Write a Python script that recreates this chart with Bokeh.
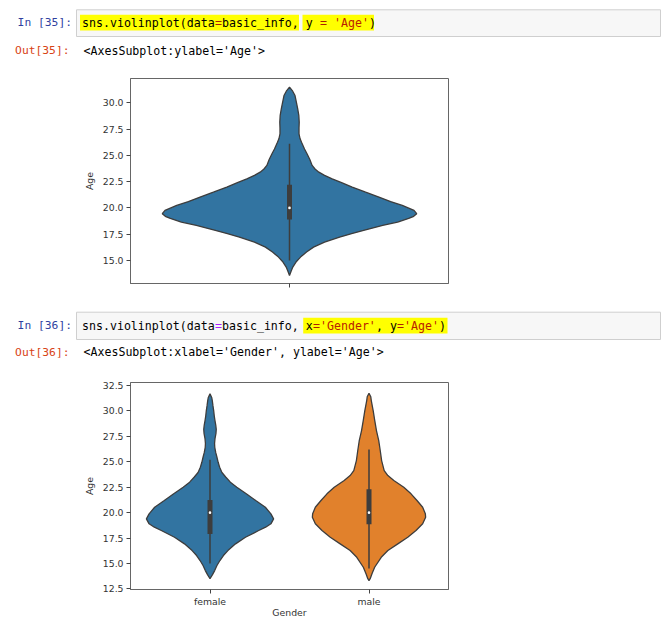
from bokeh.plotting import figure
from bokeh.layouts import column, row
from bokeh.models import Range1d, FixedTicker, PrintfTickFormatter
from bokeh.core.properties import value
from bokeh.embed import file_html
from bokeh.resources import INLINE

# ---------------- data ----------------
# single violin (all ages)
all_age = [31.49, 31.1, 30.69, 30.0, 29.43, 28.8, 28.16, 27.6, 27.05, 26.6, 26.25, 25.6, 25.15,
           24.6, 24.04, 23.7, 23.4, 23.1, 22.77, 22.4, 21.98, 21.5, 21.03, 20.6, 20.24, 19.76,
           19.45, 19.2, 19.0, 18.65, 18.33, 17.86, 17.55, 17.22, 16.75, 16.27, 15.8, 15.32,
           14.85, 14.37, 13.95, 13.58]
all_dens = [0, 3.2, 5.5, 7, 8.2, 9.3, 9.7, 9.5, 9.5, 10.5, 12, 15, 17.5,
            20.3, 22.6, 25.5, 29.3, 35, 42.6, 52, 62.6, 76, 89.3, 101, 112.6, 124.3,
            127, 124, 119, 108, 93, 74, 62, 50, 35, 24, 17, 11,
            6.5, 3.3, 1.5, 0]
all_box = dict(low=15.0, q1=18.9, med=20.0, q3=22.2, high=26.1)

genders = ["female", "male"]
female_age = [31.68, 31.3, 31.02, 30.5, 30.04, 29.5, 29.06, 28.6, 28.2, 27.8, 27.26, 26.8,
              26.43, 25.9, 25.45, 24.95, 24.46, 23.95, 23.48, 23.0, 22.5, 21.85, 21.19, 20.53,
              19.88, 19.39, 18.9, 18.57, 18.24, 17.58, 16.93, 16.27, 15.78, 15.29, 14.8, 14.3,
              13.9, 13.5]
female_dens = [0, 1.8, 2.3, 3, 3.7, 4.3, 5, 5.8, 6.3, 6, 5, 4.6,
               4.8, 5.8, 7, 8.2, 9.7, 12, 16, 20.5, 27, 36.5, 46, 55.7,
               61.3, 64, 61.3, 56, 49, 35.7, 25.7, 18, 13.5, 10, 7, 4.7,
               2.5, 0]
male_age = [31.74, 31.4, 31.02, 30.04, 29.06, 28.07, 27.09, 26.11, 25.12, 24.14, 23.65, 23.16,
            22.5, 21.85, 21.19, 20.53, 19.88, 19.55, 18.9, 18.24, 17.58, 16.93, 16.27, 15.61,
            14.63, 13.98, 13.5, 13.32]
male_dens = [0, 1.8, 2.3, 4.2, 5.8, 7.5, 9.8, 11.3, 12.7, 15.3, 19, 25,
             35, 42.3, 48.3, 54, 56.7, 57, 54, 47.3, 39, 29, 19, 12.3,
             5.7, 3, 1.2, 0]
gender_box = [dict(low=15.0, q1=17.9, med=20.0, q3=21.25, high=25.2),
              dict(low=14.5, q1=18.85, med=20.0, q3=22.3, high=26.2)]

plot1_yticks = [15.0, 17.5, 20.0, 22.5, 25.0, 27.5, 30.0]
plot2_yticks = [12.5, 15.0, 17.5, 20.0, 22.5, 25.0, 27.5, 30.0, 32.5]

code1 = [("sns.violinplot(data", "#000000"), ("=", "#aa2200"), ("basic_info, y ", "#000000"),
         ("=", "#aa2200"), (" ", "#000000"), ("'Age'", "#ba2100"), (")", "#000000")]
code2 = [("sns.violinplot(data", "#000000"), ("=", "#aa22ff"), ("basic_info, x", "#000000"),
         ("=", "#aa2200"), ("'Gender'", "#ba2100"), (", y", "#000000"), ("=", "#aa2200"),
         ("'Age'", "#ba2100"), (")", "#000000")]
out1 = "<AxesSubplot:ylabel='Age'>"
out2 = "<AxesSubplot:xlabel='Gender', ylabel='Age'>"

BLUE = "#3274a1"
ORANGE = "#e1812c"
GRAY = "#3d3d3d"
W = 669
MONO = "DejaVu Sans Mono"
CH = 7.0  # monospace advance
FL, FW = 130, 318  # plot frame left / width


def header(height, n, code, out, box_y, hl, text_y, out_y):
    p = figure(width=W, height=height, x_range=Range1d(0, W), y_range=Range1d(height, 0),
               output_backend="svg", toolbar_location=None, min_border=0,
               x_axis_location=None, y_axis_location=None)
    p.outline_line_color = None
    p.grid.visible = False
    # input box
    p.quad(left=[76], right=[660], top=[box_y[0]], bottom=[box_y[1]],
           fill_color="#f7f7f7", line_color="#cfcfcf", line_width=1)
    # highlights
    p.quad(left=[h[0] for h in hl], right=[h[1] for h in hl],
           top=[h[2] for h in hl], bottom=[h[3] for h in hl],
           fill_color="#ffff00", line_color=None)
    # prompts
    p.text(x=[71.5], y=[text_y], text=[f"In [{n}]:"], text_color="#303f9f",
           text_font=value(MONO), text_font_size=value("11.3px"),
           text_align="right", text_baseline="middle")
    p.text(x=[69], y=[out_y], text=[f"Out[{n}]:"], text_color="#d84315",
           text_font=value(MONO), text_font_size=value("11.3px"),
           text_align="right", text_baseline="middle")
    # code segments
    xs, txt, cols = [], [], []
    pos = 0
    for s, c in code:
        xs.append(81.5 + pos * CH)
        txt.append(s)
        cols.append(c)
        pos += len(s)
    p.text(x=xs, y=[text_y] * len(xs), text=txt, text_color=cols,
           text_font=value(MONO), text_font_size=value("11.6px"),
           text_align="left", text_baseline="middle")
    p.text(x=[83], y=[out_y], text=[out], text_color="#000000",
           text_font=value(MONO), text_font_size=value("11.6px"),
           text_align="left", text_baseline="middle")
    return p


def style_axes(p):
    p.grid.visible = False
    p.outline_line_color = "#666666"
    p.outline_line_width = 1
    for ax in (p.xaxis[0], p.yaxis[0]):
        ax.axis_line_color = "#666666"
        ax.major_tick_line_color = "#444444"
        ax.major_tick_line_width = 1
        ax.major_tick_out = 4
        ax.major_tick_in = 0
        ax.minor_tick_line_color = None
        ax.major_label_text_font = "DejaVu Sans"
        ax.major_label_text_font_size = "9.3px"
        ax.major_label_text_color = "#333333"
        ax.major_label_standoff = 3
        ax.axis_label_text_font = "DejaVu Sans"
        ax.axis_label_text_font_size = "9.3px"
        ax.axis_label_text_font_style = "normal"
        ax.axis_label_text_color = "#333333"


def draw_violin(p, pos, ages, dens, scale, color, box, box_w):
    half = [d * scale for d in dens]
    xs = [pos + h for h in half] + [pos - h for h in reversed(half)]
    ys = list(ages) + list(reversed(ages))
    p.patch(xs, ys, fill_color=color, line_color=GRAY, line_width=1.3)
    p.segment(x0=[pos], y0=[box["low"]], x1=[pos], y1=[box["high"]],
              line_color=GRAY, line_width=1.5)
    p.segment(x0=[pos], y0=[box["q1"]], x1=[pos], y1=[box["q3"]],
              line_color=GRAY, line_width=box_w, line_cap="butt")
    p.scatter(x=[pos], y=[box["med"]], size=2.6, fill_color="white", line_color=None)


# ---------- header 1 ----------
h1 = header(68, 35, code1, out1, (9.3, 36), [(79.5, 298.5, 14.3, 30), (302, 373.5, 14.3, 30)], 22, 50)

# ---------- plot 1 ----------
p1 = figure(width=W, height=230, x_range=Range1d(-0.5, 0.5), y_range=Range1d(12.81, 32.31),
            output_backend="svg", toolbar_location=None,
            min_border_left=FL, min_border_right=W - FL - FW,
            min_border_top=10, min_border_bottom=15)
style_axes(p1)
p1.yaxis.axis_label = "Age"
p1.yaxis.ticker = FixedTicker(ticks=plot1_yticks)
p1.yaxis.formatter = PrintfTickFormatter(format="%.1f")
p1.xaxis.ticker = FixedTicker(ticks=[0])
p1.xaxis.major_label_overrides = {0: ""}
p1.xaxis.major_label_text_font_size = "0px"
mx1 = max(all_dens)
draw_violin(p1, 0, all_age, all_dens, 0.4 / mx1, BLUE, all_box, 5)

# ---------- header 2 ----------
h2 = header(74, 36, code2, out2, (13.7, 41), [(302.7, 447, 19.3, 35)], 27, 53.7)

# ---------- plot 2 ----------
p2 = figure(width=W, height=250, x_range=Range1d(-0.5, 1.5), y_range=Range1d(12.44, 32.8),
            output_backend="svg", toolbar_location=None,
            min_border_left=FL, min_border_right=W - FL - FW,
            min_border_top=10, min_border_bottom=33)
style_axes(p2)
p2.yaxis.axis_label = "Age"
p2.xaxis.axis_label = "Gender"
p2.xaxis.major_label_standoff = 2
p2.xaxis.axis_label_standoff = -3
p2.yaxis.ticker = FixedTicker(ticks=plot2_yticks)
p2.yaxis.formatter = PrintfTickFormatter(format="%.1f")
p2.xaxis.ticker = FixedTicker(ticks=list(range(len(genders))))
p2.xaxis.major_label_overrides = {i: g for i, g in enumerate(genders)}
mx2 = max(max(female_dens), max(male_dens))
draw_violin(p2, 0, female_age, female_dens, 0.4 / mx2, BLUE, gender_box[0], 5)
draw_violin(p2, 1, male_age, male_dens, 0.4 / mx2, ORANGE, gender_box[1], 5)

layout = column(row(h1), row(p1), row(h2), row(p2), spacing=0)
open("out.html", "w").write(file_html(layout, INLINE))
